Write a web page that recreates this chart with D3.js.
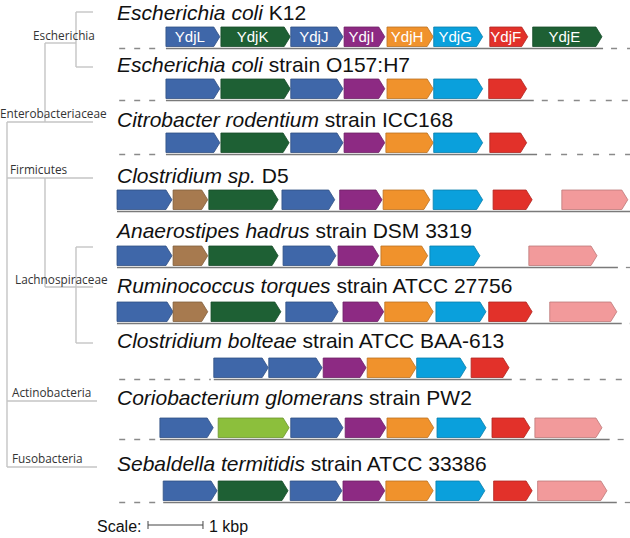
<!DOCTYPE html>
<html><head><meta charset="utf-8">
<script src="https://cdn.jsdelivr.net/npm/d3@7"></script>
<style>body{margin:0;background:#fff}svg{display:block}</style>
</head><body><div id="chart"></div>
<script>
// ---------- data (kbp) ----------
const geneTypes = ["ydjL","ydjK","ydjJ","ydjI","ydjH","ydjG","ydjF","ydjE","brown","lime","pink"];
const geneLabels = ["YdjL","YdjK","YdjJ","YdjI","YdjH","YdjG","YdjF","YdjE"];
const speciesItalic = ["Escherichia coli","Escherichia coli","Citrobacter rodentium","Clostridium sp.","Anaerostipes hadrus","Ruminococcus torques","Clostridium bolteae","Coriobacterium glomerans","Sebaldella termitidis"];
const speciesRest = [" K12"," strain O157:H7"," strain ICC168"," D5"," strain DSM 3319"," strain ATCC 27756"," strain ATCC BAA-613"," strain PW2"," strain ATCC 33386"];
// solid locus line [start, end] and dashed flanks [left, right]
const locusLines = [[0.89,8.84],[0.89,7.58],[0.89,7.64],[0,9.33],[0,9.11],[0,9.18],[1.76,7.18],[0.78,8.96],[0.84,9.09]];
const dashedFlanks = [[1,1],[1,1],[1,1],[0,0],[0,1],[0,1],[1,1],[1,1],[1,1]];
const genesEcoliK12 = [[0.89,1.87,"ydjL"],[1.89,3.15,"ydjK"],[3.16,4.11,"ydjJ"],[4.13,4.87,"ydjI"],[4.91,5.75,"ydjH"],[5.76,6.65,"ydjG"],[6.78,7.47,"ydjF"],[7.56,8.82,"ydjE"]];
const genesEcoliO157 = [[0.89,1.87,"ydjL"],[1.89,3.15,"ydjK"],[3.16,4.11,"ydjJ"],[4.13,4.87,"ydjI"],[4.91,5.75,"ydjH"],[5.76,6.65,"ydjG"],[6.76,7.45,"ydjF"]];
const genesCitrobacter = [[0.89,1.87,"ydjL"],[1.89,3.13,"ydjK"],[3.16,4.11,"ydjJ"],[4.13,4.87,"ydjI"],[4.89,5.75,"ydjH"],[5.76,6.65,"ydjG"],[6.78,7.45,"ydjF"]];
const genesClostD5 = [[0,1.0,"ydjL"],[1.02,1.65,"brown"],[1.67,2.93,"ydjK"],[3.0,3.96,"ydjJ"],[4.05,4.82,"ydjI"],[4.84,5.69,"ydjH"],[5.75,6.65,"ydjG"],[6.84,7.55,"ydjF"],[8.09,9.29,"pink"]];
const genesAnaerostipes = [[0,1.0,"ydjL"],[1.02,1.65,"brown"],[1.67,2.93,"ydjK"],[3.02,3.98,"ydjJ"],[4.02,4.76,"ydjI"],[4.8,5.65,"ydjH"],[5.69,6.6,"ydjG"],[7.49,8.73,"pink"]];
const genesRuminococcus = [[0,1.02,"ydjL"],[1.02,1.65,"brown"],[1.71,2.98,"ydjK"],[3.07,4.02,"ydjJ"],[4.11,4.85,"ydjI"],[4.87,5.75,"ydjH"],[5.8,6.71,"ydjG"],[6.76,7.55,"ydjF"],[7.87,9.09,"pink"]];
const genesBolteae = [[1.76,2.75,"ydjL"],[2.76,3.73,"ydjJ"],[3.75,4.53,"ydjI"],[4.55,5.44,"ydjH"],[5.45,6.35,"ydjG"],[6.44,7.13,"ydjF"]];
const genesCoriobacterium = [[0.78,1.75,"ydjL"],[1.84,3.13,"lime"],[3.16,4.11,"ydjJ"],[4.15,4.89,"ydjI"],[4.91,5.76,"ydjH"],[5.82,6.71,"ydjG"],[6.82,7.51,"ydjF"],[7.6,8.82,"pink"]];
const genesSebaldella = [[0.84,1.82,"ydjL"],[1.84,3.11,"ydjK"],[3.15,4.09,"ydjJ"],[4.11,4.87,"ydjI"],[4.89,5.75,"ydjH"],[5.8,6.69,"ydjG"],[6.85,7.55,"ydjF"],[7.65,8.91,"pink"]];
const rowGenes = [genesEcoliK12,genesEcoliO157,genesCitrobacter,genesClostD5,genesAnaerostipes,genesRuminococcus,genesBolteae,genesCoriobacterium,genesSebaldella];
const taxa = ["Escherichia","Enterobacteriaceae","Firmicutes","Lachnospiraceae","Actinobacteria","Fusobacteria"];
const scaleLength = 1; // kbp
const scaleLabel = "1 kbp";

// ---------- styles / layout ----------
const fill = {ydjL:"#3f67a9",ydjK:"#1e6034",ydjJ:"#3f67a9",ydjI:"#8d2a83",ydjH:"#f0922c",ydjG:"#0aa0dc",ydjF:"#e2312a",ydjE:"#1e6034",brown:"#a77a4f",lime:"#8cbf3c",pink:"#f29a9b"};
const colour = d3.scaleOrdinal().domain(geneTypes).range(geneTypes.map(t=>fill[t]));
const W=630,H=538;
const geneTop = [27,79,133,190,246,302,358,418,481];
const titleY = [20,72,127,183,238,293,348,405,471];
const geneH = 19.5, tip = 6;
const x = d3.scaleLinear().domain([0,9.33]).range([117,630]);

const svg = d3.select("#chart").append("svg").attr("width",W).attr("height",H);

// tree
const treeCol = "#c4c4c4";
const tree = svg.append("g").attr("stroke",treeCol).attr("stroke-width",1.4).attr("fill","none");
const seg = [
  [76,12,76,67],[76,12,93,12],[76,67,93,67],[45,43,76,43],[45,43,45,122],
  [7,122,93,122],[7,122,7,467],[7,178,93,178],[45,178,45,287],[45,287,93,287],
  [76,247,76,343],[76,247,93,247],[76,343,93,343],[7,401,97,401],[7,467,97,467]
];
tree.selectAll("line").data(seg).join("line")
  .attr("x1",d=>d[0]).attr("y1",d=>d[1]).attr("x2",d=>d[2]).attr("y2",d=>d[3]);
const taxPos = [[33,40],[0,118],[10,174],[15,284],[12,397],[12,463]];
svg.append("g").selectAll("text").data(taxa).join("text")
  .attr("x",(d,i)=>taxPos[i][0]).attr("y",(d,i)=>taxPos[i][1])
  .attr("font-family","'Open Sans', sans-serif").attr("font-size",11.8).attr("fill","#333")
  .text(d=>d);

// rows
const rows = svg.append("g").selectAll("g").data(rowGenes).join("g");
rows.append("text").attr("x",117).attr("y",(d,i)=>titleY[i])
  .attr("font-family","'Liberation Sans', Arial, sans-serif").attr("font-size",21).attr("fill","#111")
  .each(function(d,i){
    const t=d3.select(this);
    t.append("tspan").attr("font-style","italic").text(speciesItalic[i]);
    t.append("tspan").text(speciesRest[i]);
  });
rows.each(function(genes,i){
  const g=d3.select(this);
  const ly = geneTop[i]+geneH+2;
  g.append("line").attr("x1",x(locusLines[i][0])).attr("x2",x(locusLines[i][1]))
    .attr("y1",ly).attr("y2",ly).attr("stroke","#7a7a7a").attr("stroke-width",1.6);
  if(dashedFlanks[i][0]) g.append("line").attr("x1",x(0.04)).attr("x2",x(locusLines[i][0])-3)
    .attr("y1",ly).attr("y2",ly).attr("stroke","#8a8a8a").attr("stroke-width",1.3).attr("stroke-dasharray","6,9");
  if(dashedFlanks[i][1]) g.append("line").attr("x1",x(locusLines[i][1])+8).attr("x2",W)
    .attr("y1",ly).attr("y2",ly).attr("stroke","#8a8a8a").attr("stroke-width",1.3).attr("stroke-dasharray","6,10");
  g.selectAll("path.gene").data(genes).join("path").attr("class","gene")
    .attr("d",d=>arrow(d[0],d[1],geneTop[i]))
    .attr("fill",d=>colour(d[2]))
    .attr("stroke",d=>d3.color(colour(d[2])).darker(0.7)).attr("stroke-width",0.8);
  if(i===0){
    g.selectAll("text.lab").data(genes).join("text").attr("class","lab")
      .attr("x",(d)=>(x(d[0])+x(d[1])-tip)/2).attr("y",geneTop[i]+geneH/2+5.5)
      .attr("text-anchor","middle").attr("fill","#fff")
      .attr("font-family","'Liberation Sans', Arial, sans-serif").attr("font-size",15)
      .text((d,j)=>geneLabels[j]);
  }
});
function arrow(s,e,top){
  const x0=x(s),x1=x(e),t=Math.min(tip,(x1-x0)/2);
  return `M${x0},${top}L${x1-t},${top}L${x1},${top+geneH/2}L${x1-t},${top+geneH}L${x0},${top+geneH}Z`;
}

// scale bar
const sb = svg.append("g");
sb.append("text").attr("x",97).attr("y",532).attr("font-family","'Liberation Sans', Arial, sans-serif").attr("font-size",16).attr("fill","#111").text("Scale:");
const y0=525, sx=148, sw = x(scaleLength)-x(0);
sb.append("line").attr("x1",sx).attr("x2",sx+sw).attr("y1",y0).attr("y2",y0).attr("stroke","#444").attr("stroke-width",1);
sb.append("line").attr("x1",sx).attr("x2",sx).attr("y1",y0-4).attr("y2",y0+4).attr("stroke","#444");
sb.append("line").attr("x1",sx+sw).attr("x2",sx+sw).attr("y1",y0-4).attr("y2",y0+4).attr("stroke","#444");
sb.append("text").attr("x",sx+sw+6).attr("y",532).attr("font-family","'Liberation Sans', Arial, sans-serif").attr("font-size",16).attr("fill","#111").text(scaleLabel);
</script></body></html>
